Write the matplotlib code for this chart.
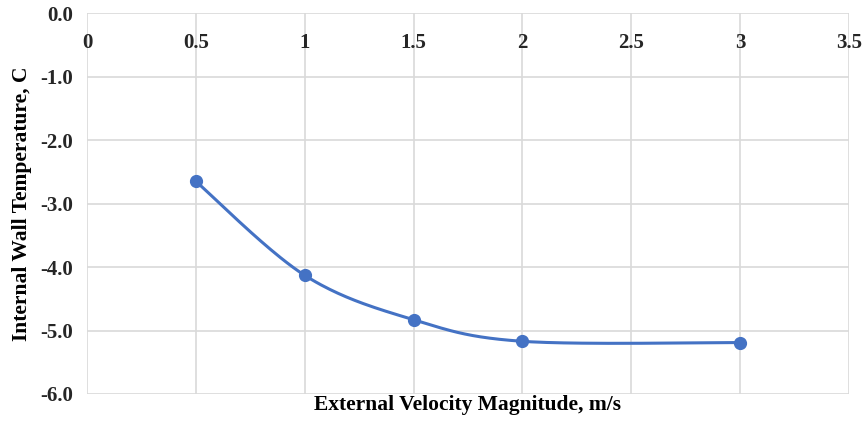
import numpy as np
import matplotlib
matplotlib.use("Agg")
import matplotlib.pyplot as plt

velocity = [0.5, 1.0, 1.5, 2.0, 3.0]
wall_temp = [-2.65, -4.13, -4.83, -5.17, -5.19]
x_ticks = [0, 0.5, 1, 1.5, 2, 2.5, 3, 3.5]
x_tick_labels = ["0", "0.5", "1", "1.5", "2", "2.5", "3", "3.5"]
y_ticks = [0.0, -1.0, -2.0, -3.0, -4.0, -5.0, -6.0]

plt.rcParams['font.family'] = ['Liberation Serif', 'DejaVu Serif']

def smooth_curve(x, y, n=40):
    # Excel-like smoothing: cubic Bezier with Catmull-Rom control points
    x = np.asarray(x, float); y = np.asarray(y, float)
    px = np.concatenate([[x[0]], x, [x[-1]]])
    py = np.concatenate([[y[0]], y, [y[-1]]])
    xs, ys = [], []
    t = np.linspace(0, 1, n)
    for i in range(1, len(px) - 2):
        p0 = np.array([px[i], py[i]]); p3 = np.array([px[i+1], py[i+1]])
        p1 = p0 + (np.array([px[i+1], py[i+1]]) - np.array([px[i-1], py[i-1]])) / 6
        p2 = p3 - (np.array([px[i+2], py[i+2]]) - np.array([px[i], py[i]])) / 6
        b = ((1-t)**3)[:, None]*p0 + (3*(1-t)**2*t)[:, None]*p1 + (3*(1-t)*t**2)[:, None]*p2 + (t**3)[:, None]*p3
        xs.append(b[:, 0]); ys.append(b[:, 1])
    return np.concatenate(xs), np.concatenate(ys)

fig = plt.figure(figsize=(8.68, 4.24), dpi=100)
ax = fig.add_axes([0.1002, 0.0708, 0.8778, 0.8982])

sx, sy = smooth_curve(velocity, wall_temp)
color = '#4472C4'
ax.plot(sx, sy, color=color, lw=2.2, zorder=3)
ax.plot(velocity, wall_temp, 'o', color=color, ms=8.5, zorder=4)

ax.set_xlim(0, 3.5)
ax.set_ylim(-6, 0)
ax.xaxis.set_ticks_position('top')
ax.set_xticks(x_ticks)
ax.set_xticklabels(x_tick_labels, fontweight='bold', color='#262626', fontsize=15)
ax.set_yticks(y_ticks)
ax.set_yticklabels([f"{v:.1f}" for v in y_ticks], fontweight='bold', color='#262626', fontsize=15)
ax.grid(True, color='#D9D9D9', lw=1.2)
ax.set_axisbelow(True)
for s in ax.spines.values():
    s.set_visible(False)
ax.tick_params(length=0)
ax.tick_params(axis='x', pad=-29)
ax.tick_params(axis='y', pad=10)
ax.xaxis.set_label_position('bottom')
ax.set_xlabel("External Velocity Magnitude, m/s", fontsize=15.5, fontweight='bold', labelpad=1)
ax.set_ylabel("Internal Wall Temperature, C", fontsize=15.5, fontweight='bold', labelpad=6)

fig.savefig("out.png", dpi=100)
